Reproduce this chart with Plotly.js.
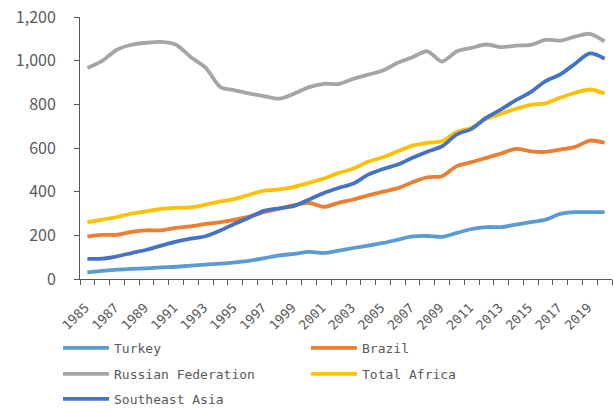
<!DOCTYPE html>
<html>
<head>
<meta charset="utf-8">
<script src="https://cdn.plot.ly/plotly-3.0.1.min.js"></script>
<style>html,body{margin:0;padding:0;background:#fff;}#chart{width:614px;height:411px;}</style>
</head>
<body>
<div id="chart"></div>
<script>
const years = [1985,1986,1987,1988,1989,1990,1991,1992,1993,1994,1995,1996,1997,1998,1999,2000,2001,2002,2003,2004,2005,2006,2007,2008,2009,2010,2011,2012,2013,2014,2015,2016,2017,2018,2019,2020];
const turkey = [30,37,43,46,49,53,56,61,66,70,76,84,96,108,115,124,119,130,142,153,165,180,195,197,193,211,229,238,238,249,260,272,298,306,306,306];
const brazil = [194,202,202,216,223,223,234,241,252,260,272,287,307,322,338,349,330,349,364,383,400,416,443,466,471,517,535,555,575,596,585,582,593,605,634,624];
const russia = [966,999,1050,1073,1082,1086,1073,1016,968,879,864,849,837,826,849,879,894,893,917,936,955,990,1016,1043,996,1043,1059,1074,1062,1069,1072,1095,1092,1110,1123,1088];
const africa = [261,272,284,300,310,321,326,328,341,355,367,387,405,410,422,440,460,486,506,537,558,585,611,624,631,673,693,734,757,780,798,804,830,853,868,850];
const seAsia = [92,93,104,119,134,153,171,185,196,222,254,283,313,324,335,364,394,417,437,478,504,524,555,583,608,662,688,739,777,819,856,906,937,986,1033,1009];
const xTickVals = [1985,1987,1989,1991,1993,1995,1997,1999,2001,2003,2005,2007,2009,2011,2013,2015,2017,2019];
const xTickText = ["1985","1987","1989","1991","1993","1995","1997","1999","2001","2003","2005","2007","2009","2011","2013","2015","2017","2019"];
const yTickVals = [0,200,400,600,800,1000,1200];
const yTickText = ["0","200","400","600","800","1,000","1,200"];

const series = [
  {name:"Turkey", y:turkey, color:"#5B9BD5", legend:"legend"},
  {name:"Brazil", y:brazil, color:"#ED7D31", legend:"legend"},
  {name:"Russian Federation", y:russia, color:"#A5A5A5", legend:"legend2"},
  {name:"Total Africa", y:africa, color:"#FFC000", legend:"legend2"},
  {name:"Southeast Asia", y:seAsia, color:"#4472C4", legend:"legend3"}
];
const traces = series.map(s => ({
  type:"scatter", mode:"lines", x:years, y:s.y, name:s.name, legend:s.legend,
  line:{color:s.color, width:3.8, shape:"spline", smoothing:0.8}
}));

const legFont = {family:"DejaVu Sans Mono", size:13, color:"#595959"};
function leg(y){
  return {orientation:"h", xref:"container", yref:"container", x:0.0945, xanchor:"left", y:y, yanchor:"middle",
    entrywidth:187, entrywidthmode:"pixels", itemwidth:46, font:legFont,
    bgcolor:"rgba(0,0,0,0)", traceorder:"normal"};
}

const layout = {
  width:614, height:411,
  margin:{l:80, r:2, t:17, b:131.5, pad:0, autoexpand:false},
  paper_bgcolor:"#ffffff", plot_bgcolor:"#ffffff",
  showlegend:true,
  legend:leg(0.1533),
  legend2:leg(0.0900),
  legend3:leg(0.0292),
  xaxis:{
    range:[1984.5,2020.5], tickmode:"array", tickvals:xTickVals, ticktext:xTickText,
    tickangle:-45, ticks:"", showgrid:false, zeroline:false,
    showline:true, linecolor:"#595959", linewidth:1,
    tickfont:{family:"DejaVu Sans Mono", size:13, color:"#595959"},
    ticklabelstandoff:15, ticklabelshift:-2,
    minor:{ticks:"outside", tick0:1984.5, dtick:1, ticklen:5, tickcolor:"#595959", tickwidth:1, showgrid:false}
  },
  yaxis:{
    range:[0,1200], tickmode:"array", tickvals:yTickVals, ticktext:yTickText,
    ticks:"outside", ticklen:5, tickcolor:"#595959", showgrid:false, zeroline:false,
    showline:true, linecolor:"#595959", linewidth:1,
    tickfont:{family:"Noto Sans CJK SC", size:16, color:"#595959"},
    ticklabelstandoff:15
  }
};
Plotly.newPlot("chart", traces, layout, {staticPlot:true, displayModeBar:false});
</script>
</body>
</html>
